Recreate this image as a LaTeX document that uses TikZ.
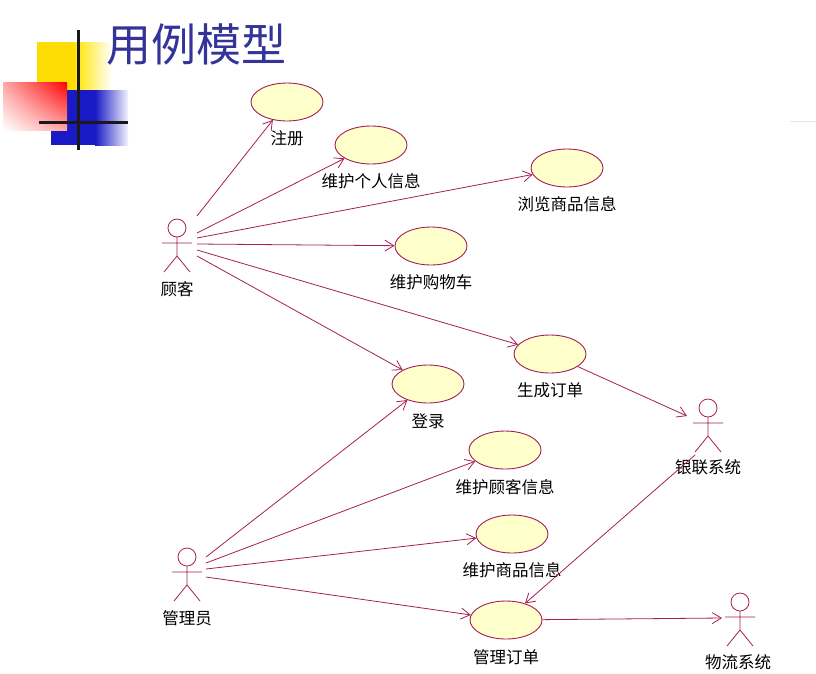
\documentclass[tikz,border=0pt]{standalone}
\usepackage{fontspec}
\newfontfamily\cjk{Noto Sans CJK SC}
\usetikzlibrary{shapes.geometric,arrows.meta,shadings}
\definecolor{uml}{RGB}{165,30,85}
\definecolor{ufill}{RGB}{255,255,204}
\definecolor{ttl}{RGB}{51,51,153}
\tikzset{
  uc/.style={ellipse,draw=uml,fill=ufill,line width=0.9pt,minimum width=72pt,minimum height=38pt,inner sep=0pt},
  lbl/.style={font=\cjk\fontsize{16.5}{18}\selectfont,inner sep=0pt},
  link/.style={draw=uml,line width=0.8pt,-{Straight Barb[length=9pt,width=11pt]}},
}
\newcommand{\actor}[3]{% name, x, y (head centre)
  \begin{scope}[shift={(#2,#3)},draw=uml,line width=0.8pt]
    \draw[uml] (0,0) circle (9);
    \draw[uml] (0,9) -- (0,28) (-15,15) -- (15,15) (-13,44) -- (0,28) -- (13,44);
  \end{scope}
  \coordinate (#1) at (#2,#3+18);}
\begin{document}
\begin{tikzpicture}[x=1pt,y=-1pt]
\useasboundingbox (0,0) rectangle (816,673);
% decoration
\fill[yellow!80!orange] (37,42) rectangle (75,90);
\shade[left color=yellow!80!orange,right color=white] (75,42) rectangle (112,90);
\fill[blue!75!black!90] (51,90) rectangle (95,145);
\shade[left color=blue!75!black!90,right color=blue!5] (95,90) rectangle (128,145);
\shade[upper right=red,lower left=white,upper left=red!35,lower right=red!35] (3,82) rectangle (67,130);
\draw[line width=3pt,black!90] (78,30) -- (78,150) (39,122) -- (128,122);
\draw[black!10] (790,121) -- (816,121);
\node[anchor=west,text=ttl,font=\cjk\fontsize{45}{50}\selectfont,inner sep=0pt] (title) at (106,45) {用例模型};
% use cases
\node[uc] (zc) at (287,102) {}; \node[lbl] at (287,138) {注册};
\node[uc] (gr) at (371,145) {}; \node[lbl] at (371,181) {维护个人信息};
\node[uc] (ll) at (567,168) {}; \node[lbl] at (567,204) {浏览商品信息};
\node[uc] (gw) at (431,246) {}; \node[lbl] at (431,282) {维护购物车};
\node[uc] (sc) at (550,354) {}; \node[lbl] at (550,390) {生成订单};
\node[uc] (dl) at (428,384) {}; \node[lbl] at (428,421) {登录};
\node[uc] (gk) at (505,450) {}; \node[lbl] at (505,487) {维护顾客信息};
\node[uc] (sp) at (512,534) {}; \node[lbl] at (512,570) {维护商品信息};
\node[uc] (dd) at (506,620) {}; \node[lbl] at (506,657) {管理订单};
% actors
\actor{gkA}{177}{228} \node[lbl] at (177,289) {顾客};
\actor{glA}{187}{557} \node[lbl] at (187,618) {管理员};
\actor{ylA}{708}{408} \node[lbl] at (708,467) {银联系统};
\actor{wlA}{740}{602} \node[lbl] at (738,662) {物流系统};
\coordinate (g1) at (197,216); \coordinate (g2) at (197,233);
\coordinate (g3) at (197,238); \coordinate (g4) at (197,244);
\coordinate (g5) at (197,250); \coordinate (g6) at (197,256);
\coordinate (m1) at (206,557); \coordinate (m2) at (206,563);
\coordinate (m3) at (206,569); \coordinate (m4) at (206,577);
\coordinate (y1) at (687,416); \coordinate (y2) at (695,455);
\coordinate (w1) at (722,618);
\draw[link] (g1) -- (zc); \draw[link] (g2) -- (gr); \draw[link] (g3) -- (ll);
\draw[link] (g4) -- (gw); \draw[link] (g5) -- (sc); \draw[link] (g6) -- (dl);
\draw[link] (m1) -- (dl); \draw[link] (m2) -- (gk); \draw[link] (m3) -- (sp);
\draw[link] (m4) -- (dd);
\draw[link] (sc) -- (y1); \draw[link] (y2) -- (dd); \draw[link] (dd) -- (w1);
\end{tikzpicture}
\end{document}
